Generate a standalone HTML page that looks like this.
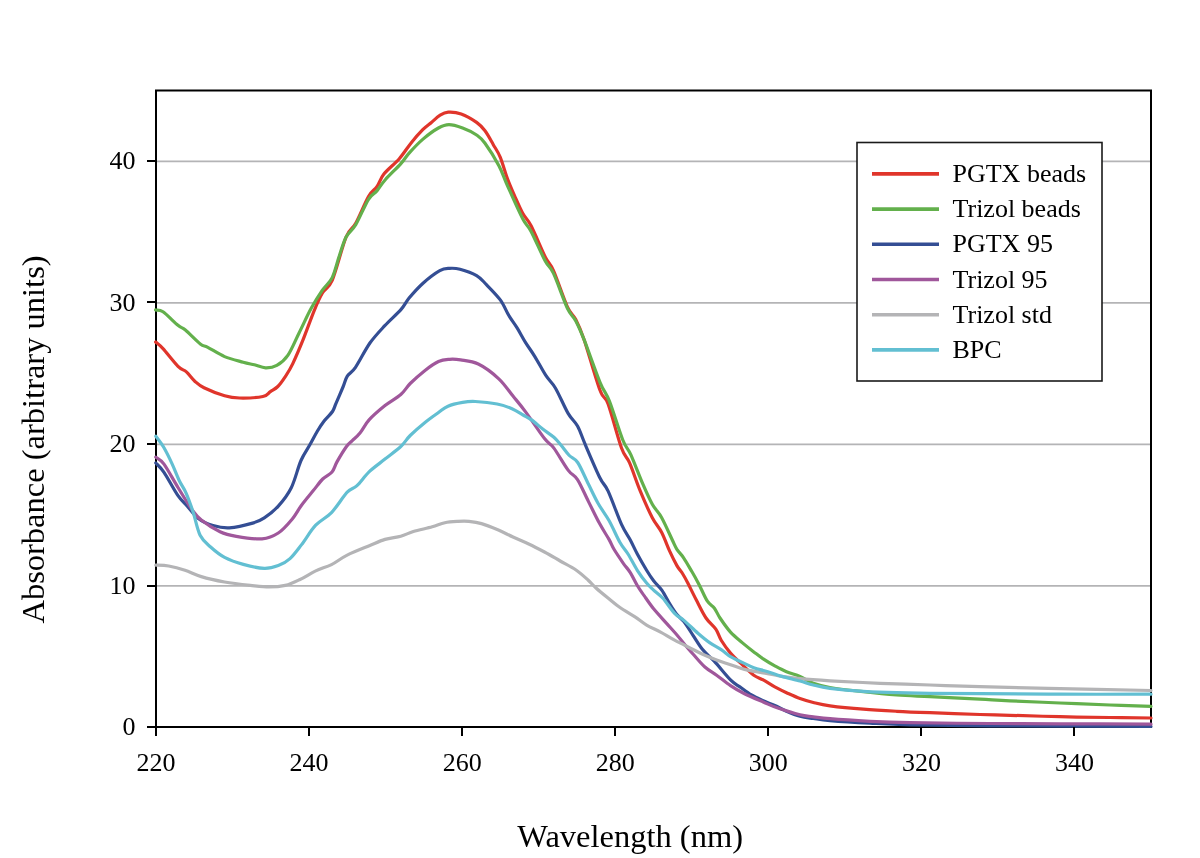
<!DOCTYPE html>
<html><head><meta charset="utf-8"><style>
html,body{margin:0;padding:0;background:#fff;}
svg{display:block;opacity:0.999;}
.t{font-family:"Liberation Serif",serif;font-size:26px;fill:#000;filter:grayscale(1);}
.a{font-family:"Liberation Serif",serif;font-size:32.5px;fill:#000;filter:grayscale(1);}
</style></head><body>
<svg width="1200" height="858" viewBox="0 0 1200 858">
<line x1="156" y1="585.85" x2="1151" y2="585.85" stroke="#B4B4B6" stroke-width="1.7"/>
<line x1="156" y1="444.35" x2="1151" y2="444.35" stroke="#B4B4B6" stroke-width="1.7"/>
<line x1="156" y1="302.85" x2="1151" y2="302.85" stroke="#B4B4B6" stroke-width="1.7"/>
<line x1="156" y1="161.35" x2="1151" y2="161.35" stroke="#B4B4B6" stroke-width="1.7"/>
<rect x="156" y="90.5" width="995" height="636.5" fill="none" stroke="#000" stroke-width="2"/>
<path d="M155.6,342.0 C156.8,343.1 159.3,344.6 163.0,348.6 C166.7,352.7 174.1,362.4 178.0,366.3 C181.9,370.2 183.6,369.4 186.4,371.9 C189.2,374.4 191.9,378.6 194.8,381.2 C197.7,383.8 199.0,385.3 204.0,387.7 C209.0,390.1 218.7,394.1 224.6,395.8 C230.5,397.5 233.1,397.9 239.5,398.0 C245.9,398.1 257.8,397.6 262.9,396.5 C268.0,395.4 267.9,393.3 270.4,391.6 C272.9,389.9 275.3,389.0 277.8,386.5 C280.3,384.0 282.8,380.4 285.3,376.6 C287.8,372.8 289.9,369.7 292.8,363.6 C295.7,357.5 299.4,348.9 302.9,340.2 C306.4,331.4 310.8,319.0 314.0,311.1 C317.2,303.2 319.4,298.1 322.4,293.0 C325.4,287.9 328.2,289.7 332.2,280.4 C336.1,271.1 342.2,246.6 346.1,237.0 C350.1,227.4 352.2,229.8 355.9,223.0 C359.6,216.2 365.0,202.6 368.5,196.5 C372.0,190.4 374.3,190.4 376.9,186.7 C379.5,183.0 380.2,178.8 383.9,174.1 C387.6,169.4 394.6,164.1 399.3,158.7 C404.0,153.3 407.9,146.8 411.9,141.9 C415.8,137.0 419.8,132.7 423.0,129.4 C426.2,126.2 428.6,124.7 431.4,122.4 C434.2,120.1 437.0,117.1 439.8,115.4 C442.6,113.7 444.6,112.4 448.2,112.2 C451.8,112.0 456.5,112.3 461.2,114.0 C465.9,115.7 472.6,119.6 476.6,122.4 C480.6,125.2 482.2,127.1 485.0,130.8 C487.8,134.5 490.8,140.3 493.3,144.7 C495.9,149.1 498.0,151.7 500.3,157.3 C502.6,162.9 505.0,172.0 507.3,178.3 C509.6,184.6 511.7,189.3 514.3,195.1 C516.9,200.9 519.9,208.2 522.7,213.3 C525.5,218.4 527.4,218.6 531.1,225.8 C534.8,233.0 541.4,249.1 545.1,256.6 C548.8,264.1 549.8,262.2 553.5,270.6 C557.2,279.0 563.7,298.8 567.4,306.9 C571.1,315.0 573.0,314.0 575.8,319.5 C578.6,325.0 580.2,328.1 584.2,339.9 C588.2,351.7 596.0,379.7 600.0,390.3 C604.0,400.9 604.4,394.1 608.0,403.7 C611.6,413.3 617.9,438.2 621.5,448.0 C625.1,457.8 626.4,455.6 629.5,462.7 C632.6,469.8 636.4,481.7 640.2,490.9 C644.0,500.1 648.7,510.8 652.3,517.7 C655.9,524.6 658.8,526.8 661.7,532.5 C664.6,538.2 667.4,546.2 669.9,551.7 C672.4,557.2 674.8,561.9 676.9,565.6 C679.0,569.3 681.0,571.1 682.8,574.0 C684.6,576.9 685.6,578.7 687.8,583.0 C690.0,587.3 693.2,594.0 696.2,599.8 C699.2,605.6 702.7,613.1 706.0,618.0 C709.3,622.9 713.3,625.5 715.8,629.2 C718.3,632.9 718.8,636.2 721.2,640.2 C723.7,644.2 727.0,649.0 730.5,653.1 C734.0,657.2 738.3,661.0 742.2,664.7 C746.1,668.4 750.3,672.7 753.8,675.2 C757.3,677.7 759.7,678.0 763.2,679.9 C766.7,681.8 770.9,684.8 774.8,686.9 C778.7,689.0 782.3,690.8 786.5,692.7 C790.7,694.6 795.5,696.9 800.0,698.5 C804.5,700.1 808.3,701.3 813.3,702.5 C818.3,703.7 821.7,704.7 830.0,705.8 C838.3,706.9 852.2,708.3 863.3,709.2 C874.4,710.1 885.6,710.7 896.7,711.3 C907.8,711.9 916.1,712.2 930.0,712.7 C943.9,713.2 966.7,714.1 980.0,714.5 C993.3,714.9 996.7,714.9 1010.0,715.3 C1023.3,715.7 1043.3,716.3 1060.0,716.7 C1076.7,717.1 1094.8,717.3 1110.0,717.5 C1125.2,717.7 1144.2,717.9 1151.0,718.0" fill="none" stroke="#E0352B" stroke-width="3.2" stroke-linejoin="round" stroke-linecap="round"/>
<path d="M155.6,310.0 C156.8,310.3 159.3,309.2 163.0,311.8 C166.7,314.4 174.3,322.3 178.0,325.3 C181.7,328.3 181.7,326.9 185.4,330.0 C189.1,333.1 196.6,341.0 200.3,343.9 C204.0,346.8 203.8,345.2 207.8,347.3 C211.9,349.4 218.7,354.1 224.6,356.6 C230.5,359.1 238.2,360.8 243.2,362.2 C248.2,363.6 250.7,363.9 254.4,364.8 C258.1,365.7 261.9,367.7 265.6,367.8 C269.3,367.9 273.1,367.5 276.8,365.4 C280.5,363.3 284.3,360.6 288.0,355.1 C291.7,349.7 295.3,340.5 299.2,332.7 C303.1,324.9 307.3,315.4 311.2,308.3 C315.1,301.2 318.9,295.3 322.4,290.2 C325.9,285.1 329.4,283.2 332.2,277.6 C335.0,272.0 336.8,263.4 339.1,256.6 C341.4,249.8 343.3,242.4 346.1,237.0 C348.9,231.6 352.2,230.7 355.9,224.4 C359.6,218.1 365.0,204.9 368.5,199.3 C372.0,193.7 374.1,194.2 376.9,190.9 C379.7,187.6 381.3,184.2 385.3,179.7 C389.3,175.2 396.7,168.2 400.7,163.8 C404.7,159.4 405.4,157.2 409.1,153.1 C412.8,149.0 418.1,143.3 423.0,139.1 C427.9,134.9 434.1,130.4 438.4,128.0 C442.7,125.6 445.0,124.6 449.0,124.6 C453.0,124.6 458.0,126.3 462.6,128.0 C467.2,129.7 472.9,132.4 476.6,135.0 C480.3,137.6 481.3,138.2 485.0,143.3 C488.7,148.4 495.2,158.7 498.9,165.7 C502.6,172.7 503.3,176.5 507.3,185.3 C511.3,194.2 518.7,211.1 522.7,218.8 C526.7,226.5 527.4,224.4 531.1,231.4 C534.8,238.4 541.4,253.8 545.1,260.8 C548.8,267.8 549.8,265.5 553.5,273.4 C557.2,281.3 563.7,300.4 567.4,308.3 C571.1,316.2 573.0,315.6 575.8,320.9 C578.6,326.2 580.2,329.7 584.2,339.9 C588.2,350.1 595.8,372.1 600.0,382.3 C604.2,392.5 605.6,391.5 609.4,401.1 C613.2,410.7 619.2,431.1 622.8,440.0 C626.4,448.9 627.4,447.3 630.8,454.7 C634.1,462.1 639.3,475.9 642.9,484.2 C646.5,492.5 649.2,498.7 652.3,504.3 C655.4,509.9 658.4,511.8 661.7,517.7 C665.0,523.7 669.8,534.7 672.3,540.0 C674.8,545.3 675.0,546.3 676.9,549.3 C678.8,552.3 681.1,554.0 683.6,557.8 C686.1,561.5 689.4,567.4 692.0,571.8 C694.6,576.2 696.4,579.5 699.0,584.4 C701.6,589.3 704.8,597.2 707.4,601.2 C710.0,605.2 712.3,605.4 714.4,608.2 C716.5,611.0 717.3,614.0 720.0,618.0 C722.7,622.0 726.8,628.0 730.5,632.1 C734.2,636.2 738.3,639.3 742.2,642.6 C746.1,645.9 750.3,649.2 753.8,651.9 C757.3,654.6 759.7,656.6 763.2,658.9 C766.7,661.2 770.9,663.8 774.8,665.9 C778.7,668.0 782.3,670.0 786.5,671.7 C790.7,673.5 795.5,674.5 800.0,676.4 C804.5,678.3 808.3,681.4 813.3,683.3 C818.3,685.1 821.7,686.1 830.0,687.5 C838.3,688.9 852.2,690.5 863.3,691.7 C874.4,693.0 885.6,694.2 896.7,695.0 C907.8,695.8 916.1,696.0 930.0,696.7 C943.9,697.4 966.7,698.5 980.0,699.2 C993.3,699.9 996.7,700.2 1010.0,700.8 C1023.3,701.4 1043.3,702.3 1060.0,703.0 C1076.7,703.7 1094.8,704.5 1110.0,705.0 C1125.2,705.5 1144.2,706.1 1151.0,706.3" fill="none" stroke="#63B04C" stroke-width="3.2" stroke-linejoin="round" stroke-linecap="round"/>
<path d="M155.8,463.0 C157.2,464.6 160.3,466.9 164.0,472.3 C167.7,477.7 174.1,490.0 178.0,495.6 C181.9,501.2 183.8,502.2 187.3,506.1 C190.8,510.0 194.7,515.8 199.0,519.0 C203.3,522.2 207.9,524.0 213.0,525.5 C218.1,527.0 222.7,528.2 229.3,527.8 C235.9,527.4 246.8,524.8 252.6,523.1 C258.4,521.4 260.0,520.6 264.3,517.8 C268.6,515.0 273.8,511.1 278.3,506.1 C282.8,501.1 287.5,495.3 291.3,487.7 C295.1,480.1 297.8,467.8 301.0,460.5 C304.2,453.2 307.6,449.0 310.3,444.1 C313.0,439.2 315.0,435.2 317.3,431.3 C319.6,427.4 321.8,424.1 324.3,420.8 C326.8,417.5 330.6,414.4 332.5,411.5 C334.4,408.6 334.2,407.4 336.0,403.3 C337.8,399.2 341.1,391.5 343.0,387.0 C344.9,382.5 345.2,379.5 347.3,376.2 C349.4,372.9 351.7,372.9 355.5,367.3 C359.3,361.7 365.2,349.7 370.1,342.8 C375.0,335.9 379.6,331.3 384.8,325.7 C390.0,320.1 397.1,314.0 401.1,309.4 C405.2,304.8 405.5,302.4 409.1,298.0 C412.8,293.6 417.9,287.8 423.0,283.2 C428.1,278.6 435.4,273.1 439.8,270.6 C444.2,268.1 446.2,268.5 449.6,268.3 C453.0,268.1 455.5,268.0 460.0,269.2 C464.5,270.4 472.2,273.0 476.6,275.6 C481.0,278.2 482.4,280.6 486.4,284.6 C490.3,288.7 496.6,294.8 500.3,299.9 C504.0,305.0 505.9,310.6 508.7,315.3 C511.5,320.0 514.3,323.3 517.1,327.9 C519.9,332.4 522.6,337.8 525.6,342.6 C528.6,347.4 531.6,351.3 535.0,356.8 C538.4,362.3 542.6,370.5 546.0,375.7 C549.4,380.9 551.8,381.9 555.5,388.2 C559.2,394.5 564.4,407.1 568.1,413.4 C571.8,419.7 574.6,420.8 577.5,426.0 C580.4,431.2 581.6,436.2 585.4,444.9 C589.1,453.6 596.2,470.3 600.0,478.0 C603.8,485.7 604.4,483.2 608.0,490.9 C611.6,498.6 617.8,516.2 621.5,524.4 C625.2,532.6 627.7,535.1 630.3,540.0 C632.9,544.9 634.6,549.0 637.3,554.0 C640.0,559.0 643.9,565.8 646.6,570.3 C649.3,574.8 651.1,577.5 653.6,580.8 C656.1,584.1 659.1,586.2 661.8,590.1 C664.5,594.0 667.4,600.0 669.9,604.1 C672.4,608.2 674.6,611.7 676.9,614.6 C679.2,617.5 681.2,618.1 683.9,621.6 C686.6,625.1 690.1,630.9 693.2,635.6 C696.3,640.3 699.1,645.3 702.6,649.6 C706.1,653.9 709.6,656.2 714.2,661.2 C718.9,666.2 726.2,675.6 730.5,679.9 C734.8,684.2 736.4,684.4 739.9,686.9 C743.4,689.4 747.6,692.7 751.5,695.0 C755.4,697.3 759.3,699.0 763.2,700.8 C767.1,702.5 770.9,703.8 774.8,705.5 C778.7,707.2 782.3,709.5 786.5,711.3 C790.7,713.1 795.5,715.1 800.0,716.3 C804.5,717.5 808.3,717.8 813.3,718.5 C818.3,719.2 820.5,719.8 830.0,720.6 C839.5,721.4 856.7,722.5 870.0,723.2 C883.3,723.9 890.0,724.4 910.0,724.8 C930.0,725.2 949.8,725.5 990.0,725.8 C1030.2,726.1 1124.2,726.4 1151.0,726.5" fill="none" stroke="#344E94" stroke-width="3.2" stroke-linejoin="round" stroke-linecap="round"/>
<path d="M155.8,457.1 C157.2,458.3 160.3,459.0 164.0,464.1 C167.7,469.2 173.3,479.9 178.0,487.5 C182.7,495.1 188.1,504.2 192.0,509.6 C195.9,515.0 196.6,516.4 201.3,520.1 C206.0,523.8 214.2,529.1 220.0,531.8 C225.8,534.5 229.3,535.2 236.3,536.4 C243.3,537.6 255.0,539.4 262.0,538.8 C269.0,538.2 273.2,536.3 278.3,533.0 C283.4,529.7 288.4,523.7 292.3,519.0 C296.2,514.3 298.2,509.7 301.7,505.0 C305.2,500.3 309.8,494.9 313.3,490.6 C316.8,486.3 319.6,482.1 322.7,479.0 C325.8,475.9 329.6,474.9 332.0,472.0 C334.4,469.1 334.7,465.9 337.1,461.6 C339.5,457.4 344.0,450.0 346.5,446.5 C349.0,443.0 350.1,442.9 352.3,440.6 C354.6,438.4 357.2,436.5 360.0,433.0 C362.8,429.5 365.1,424.3 369.3,419.7 C373.5,415.1 379.8,409.8 385.0,405.6 C390.2,401.4 396.6,398.2 400.8,394.5 C405.0,390.8 406.3,387.4 410.2,383.5 C414.1,379.6 419.7,374.6 424.4,370.9 C429.1,367.2 434.3,363.4 438.5,361.5 C442.7,359.6 445.9,359.6 449.6,359.3 C453.3,359.0 455.8,359.1 460.6,359.9 C465.4,360.7 471.9,360.9 478.3,364.0 C484.7,367.1 493.0,373.4 498.8,378.8 C504.6,384.2 508.5,390.6 513.0,396.1 C517.5,401.6 520.4,404.8 525.6,411.9 C530.9,419.0 539.8,432.6 544.5,438.6 C549.2,444.6 550.0,442.9 553.9,448.1 C557.8,453.4 564.2,464.9 568.1,470.1 C572.0,475.4 574.1,474.4 577.5,479.6 C580.9,484.9 584.8,494.3 588.5,501.6 C592.2,508.9 596.2,517.3 599.6,523.6 C603.0,529.9 606.6,535.1 609.0,539.4 C611.4,543.7 611.6,545.3 614.0,549.3 C616.4,553.3 620.6,559.4 623.3,563.3 C626.0,567.2 628.0,568.9 630.3,572.6 C632.6,576.3 635.0,581.6 637.3,585.5 C639.6,589.4 641.6,592.0 644.3,595.9 C647.0,599.8 649.9,604.2 653.6,608.8 C657.4,613.4 662.7,619.0 666.8,623.6 C670.9,628.2 675.0,632.7 678.0,636.2 C681.0,639.8 682.6,641.9 685.1,644.9 C687.6,647.9 689.9,650.5 693.2,654.2 C696.5,657.9 701.0,663.5 704.9,667.0 C708.8,670.5 712.3,672.1 716.6,675.2 C720.9,678.3 725.9,682.6 730.5,685.7 C735.1,688.8 739.0,691.1 744.5,693.8 C750.0,696.5 757.8,699.7 763.2,702.0 C768.7,704.3 771.1,705.7 777.2,707.8 C783.3,709.9 794.0,713.3 800.0,714.8 C806.0,716.3 808.3,716.1 813.3,716.8 C818.3,717.4 820.5,718.0 830.0,718.7 C839.5,719.5 856.7,720.6 870.0,721.3 C883.3,722.0 890.0,722.3 910.0,722.7 C930.0,723.1 965.0,723.3 990.0,723.5 C1015.0,723.7 1033.2,723.7 1060.0,723.8 C1086.8,723.9 1135.8,724.1 1151.0,724.2" fill="none" stroke="#A0579B" stroke-width="3.2" stroke-linejoin="round" stroke-linecap="round"/>
<path d="M155.8,565.1 C158.0,565.2 163.8,565.1 168.7,566.0 C173.6,566.9 179.6,568.5 185.0,570.3 C190.4,572.1 194.7,574.6 201.3,576.6 C207.9,578.6 216.4,580.5 224.6,582.0 C232.8,583.5 242.9,584.6 250.3,585.4 C257.7,586.2 263.2,587.0 269.0,587.0 C274.8,587.0 280.1,586.6 285.3,585.4 C290.5,584.1 294.9,581.9 300.0,579.5 C305.1,577.1 310.4,573.4 315.7,570.9 C320.9,568.4 326.2,567.2 331.5,564.6 C336.8,562.0 340.9,558.2 347.2,555.1 C353.5,552.0 363.0,548.3 369.3,545.7 C375.6,543.1 379.8,541.0 385.0,539.4 C390.2,537.8 396.1,537.5 400.8,536.2 C405.5,534.9 408.2,533.1 413.4,531.5 C418.6,529.9 427.0,528.3 432.2,526.8 C437.4,525.3 440.6,523.6 444.8,522.7 C449.0,521.8 453.4,521.6 457.4,521.4 C461.4,521.2 464.9,521.0 468.9,521.4 C472.9,521.8 476.8,522.2 481.5,523.6 C486.2,525.0 491.9,527.3 497.2,529.5 C502.4,531.7 507.8,534.6 513.0,537.0 C518.2,539.4 523.5,541.5 528.7,544.0 C534.0,546.5 539.2,549.2 544.5,552.0 C549.8,554.8 555.0,558.0 560.2,561.0 C565.5,564.0 571.4,566.8 576.0,570.0 C580.6,573.2 584.7,577.0 588.0,580.0 C591.3,583.0 592.7,585.0 596.0,588.0 C599.3,591.0 604.0,594.8 608.0,598.0 C612.0,601.2 615.5,604.4 620.0,607.5 C624.5,610.6 630.6,614.0 635.0,616.9 C639.4,619.8 642.3,622.6 646.6,625.1 C650.9,627.6 655.9,629.6 660.6,632.1 C665.3,634.6 669.9,637.7 674.6,640.2 C679.3,642.7 683.9,644.9 688.6,647.2 C693.3,649.5 697.9,652.1 702.6,654.2 C707.3,656.3 712.0,658.2 716.6,660.0 C721.2,661.8 725.9,663.1 730.5,664.7 C735.1,666.3 739.0,668.0 744.5,669.4 C750.0,670.8 757.0,671.7 763.2,672.9 C769.4,674.1 775.7,675.4 781.8,676.4 C787.9,677.4 792.0,678.0 800.0,678.7 C808.0,679.4 816.7,680.0 830.0,680.8 C843.3,681.6 863.3,682.6 880.0,683.3 C896.7,684.0 913.3,684.4 930.0,685.0 C946.7,685.6 958.3,686.1 980.0,686.7 C1001.7,687.3 1031.5,688.1 1060.0,688.7 C1088.5,689.3 1135.8,690.2 1151.0,690.5" fill="none" stroke="#B4B4B6" stroke-width="3.2" stroke-linejoin="round" stroke-linecap="round"/>
<path d="M155.8,436.2 C157.2,438.1 161.3,443.1 164.0,447.8 C166.7,452.5 169.7,458.7 172.2,464.1 C174.7,469.6 176.9,475.6 179.2,480.5 C181.5,485.4 183.9,488.1 186.2,493.3 C188.5,498.6 190.8,505.0 193.1,512.0 C195.4,519.0 197.2,529.5 200.1,535.3 C203.0,541.1 206.5,543.3 210.6,547.0 C214.7,550.7 219.1,554.5 224.6,557.4 C230.1,560.3 236.7,562.6 243.3,564.4 C249.9,566.2 258.5,568.2 264.3,568.4 C270.1,568.6 274.0,567.2 278.3,565.6 C282.6,564.0 286.1,562.1 290.0,558.6 C293.9,555.1 297.3,550.2 301.6,544.6 C305.9,539.0 310.7,530.5 315.7,525.2 C320.7,519.9 326.2,518.1 331.5,512.6 C336.8,507.1 343.0,496.6 347.2,492.2 C351.4,487.8 353.0,489.3 356.7,485.9 C360.4,482.5 364.6,476.2 369.3,471.7 C374.0,467.2 379.8,463.3 385.0,459.1 C390.2,454.9 396.6,450.4 400.8,446.5 C405.0,442.6 406.3,439.4 410.2,435.5 C414.1,431.6 419.7,426.7 424.4,422.9 C429.1,419.1 434.6,415.3 438.5,412.5 C442.4,409.7 444.0,407.9 448.0,406.2 C452.0,404.5 458.1,403.2 462.6,402.4 C467.1,401.6 469.4,401.2 475.2,401.5 C481.0,401.8 491.1,402.8 497.2,404.0 C503.3,405.2 507.7,406.9 512.0,408.7 C516.3,410.5 519.9,413.1 523.1,415.0 C526.4,416.9 528.2,417.6 531.5,419.9 C534.8,422.2 539.0,426.1 542.7,429.0 C546.4,431.9 550.9,434.6 553.9,437.3 C556.9,440.0 558.3,442.0 560.9,445.0 C563.5,448.0 566.5,452.6 569.3,455.5 C572.1,458.4 574.5,457.7 577.7,462.5 C580.9,467.3 585.1,477.5 588.5,484.3 C591.9,491.1 594.6,497.2 598.0,503.2 C601.4,509.2 605.3,514.0 609.0,520.5 C612.7,527.0 616.8,536.9 620.0,542.5 C623.2,548.1 625.1,549.4 628.0,554.0 C630.9,558.6 634.2,565.4 637.3,570.3 C640.4,575.1 643.9,579.8 646.6,583.1 C649.3,586.4 650.9,587.6 653.6,590.1 C656.3,592.6 659.4,594.4 662.9,598.3 C666.4,602.2 671.1,609.7 674.6,613.4 C678.1,617.1 680.0,617.1 683.9,620.4 C687.8,623.7 693.6,629.5 697.9,633.2 C702.2,636.9 705.7,639.9 709.6,642.6 C713.5,645.3 717.7,647.3 721.2,649.6 C724.7,651.9 727.0,654.5 730.5,656.6 C734.0,658.7 738.3,660.5 742.2,662.4 C746.1,664.2 749.5,666.2 753.8,667.7 C758.1,669.2 763.1,670.2 767.8,671.7 C772.5,673.2 776.4,674.9 781.8,676.4 C787.2,677.9 794.8,679.6 800.0,681.0 C805.2,682.4 808.3,683.8 813.3,685.0 C818.3,686.2 821.7,687.2 830.0,688.3 C838.3,689.3 852.2,690.6 863.3,691.3 C874.4,692.0 885.6,692.4 896.7,692.7 C907.8,693.0 916.1,693.1 930.0,693.3 C943.9,693.5 958.3,693.6 980.0,693.7 C1001.7,693.9 1031.5,694.1 1060.0,694.2 C1088.5,694.3 1135.8,694.2 1151.0,694.2" fill="none" stroke="#62BFD2" stroke-width="3.2" stroke-linejoin="round" stroke-linecap="round"/>
<line x1="147" y1="727" x2="156" y2="727" stroke="#000" stroke-width="2"/>
<line x1="147" y1="586" x2="156" y2="586" stroke="#000" stroke-width="2"/>
<line x1="147" y1="444" x2="156" y2="444" stroke="#000" stroke-width="2"/>
<line x1="147" y1="302" x2="156" y2="302" stroke="#000" stroke-width="2"/>
<line x1="147" y1="161" x2="156" y2="161" stroke="#000" stroke-width="2"/>
<line x1="156" y1="727" x2="156" y2="736" stroke="#000" stroke-width="2"/>
<line x1="309" y1="727" x2="309" y2="736" stroke="#000" stroke-width="2"/>
<line x1="462" y1="727" x2="462" y2="736" stroke="#000" stroke-width="2"/>
<line x1="615" y1="727" x2="615" y2="736" stroke="#000" stroke-width="2"/>
<line x1="768" y1="727" x2="768" y2="736" stroke="#000" stroke-width="2"/>
<line x1="921" y1="727" x2="921" y2="736" stroke="#000" stroke-width="2"/>
<line x1="1074" y1="727" x2="1074" y2="736" stroke="#000" stroke-width="2"/>
<text x="135.6" y="735.3" text-anchor="end" class="t">0</text>
<text x="135.6" y="593.8" text-anchor="end" class="t">10</text>
<text x="135.6" y="452.3" text-anchor="end" class="t">20</text>
<text x="135.6" y="310.8" text-anchor="end" class="t">30</text>
<text x="135.6" y="169.3" text-anchor="end" class="t">40</text>
<text x="156.0" y="771" text-anchor="middle" class="t">220</text>
<text x="309.1" y="771" text-anchor="middle" class="t">240</text>
<text x="462.2" y="771" text-anchor="middle" class="t">260</text>
<text x="615.2" y="771" text-anchor="middle" class="t">280</text>
<text x="768.3" y="771" text-anchor="middle" class="t">300</text>
<text x="921.4" y="771" text-anchor="middle" class="t">320</text>
<text x="1074.5" y="771" text-anchor="middle" class="t">340</text>
<text x="630.2" y="847" text-anchor="middle" class="a">Wavelength (nm)</text>
<text transform="translate(43.6,439.5) rotate(-90)" text-anchor="middle" class="a">Absorbance (arbitrary units)</text>
<rect x="857" y="142.5" width="245" height="238.5" fill="#fff" stroke="#1a1a1a" stroke-width="1.6"/>
<line x1="872" y1="173.9" x2="939" y2="173.9" stroke="#E0352B" stroke-width="3.6"/>
<text x="952.5" y="181.9" class="t">PGTX beads</text>
<line x1="872" y1="209.1" x2="939" y2="209.1" stroke="#63B04C" stroke-width="3.6"/>
<text x="952.5" y="217.1" class="t">Trizol beads</text>
<line x1="872" y1="244.3" x2="939" y2="244.3" stroke="#344E94" stroke-width="3.6"/>
<text x="952.5" y="252.3" class="t">PGTX 95</text>
<line x1="872" y1="279.5" x2="939" y2="279.5" stroke="#A0579B" stroke-width="3.6"/>
<text x="952.5" y="287.5" class="t">Trizol 95</text>
<line x1="872" y1="314.7" x2="939" y2="314.7" stroke="#B4B4B6" stroke-width="3.6"/>
<text x="952.5" y="322.7" class="t">Trizol std</text>
<line x1="872" y1="349.9" x2="939" y2="349.9" stroke="#62BFD2" stroke-width="3.6"/>
<text x="952.5" y="357.9" class="t">BPC</text>
</svg>
</body></html>
